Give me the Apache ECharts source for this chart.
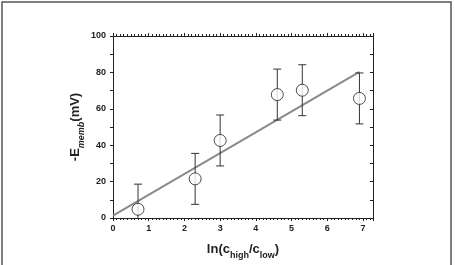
<!DOCTYPE html>
<html>
<head>
<meta charset="UTF-8">
<script src="https://cdn.jsdelivr.net/npm/echarts@6/dist/echarts.min.js"></script>
<style>
  body { margin: 0; padding: 0; background: #fff; }
  #chart { width: 455px; height: 265px; }
</style>
</head>
<body>
<div id="chart"></div>
<script>
  // measured points: ln(c_high/c_low), -E_memb (mV), error
  const lnRatio = [0.7, 2.3, 3.0, 4.6, 5.3, 6.9];
  const eMemb = [4.8, 21.5, 42.6, 67.8, 70.2, 65.7];
  const eErr = [13.8, 14.0, 14.0, 14.0, 14.0, 14.0];
  // fitted line end points
  const fitX = [0, 6.9];
  const fitY = [1.3, 80.3];
  const xTicks = [0, 1, 2, 3, 4, 5, 6, 7];
  const yTicks = [0, 20, 40, 60, 80, 100];

  const font = 'Liberation Sans, Arial, sans-serif';
  const chart = echarts.init(document.getElementById('chart'));

  const line = { show: true, onZero: false, lineStyle: { color: '#222', width: 1 } };

  chart.setOption({
    animation: false,
    grid: { left: 113, right: 82, top: 36, bottom: 43 },
    graphic: [{
      type: 'rect',
      shape: { x: 2, y: 2, width: 449, height: 275 },
      style: { fill: 'none', stroke: '#555', lineWidth: 1.5 }
    }],
    xAxis: [
      {
        type: 'value', min: 0, max: 7.28, interval: 1, position: 'bottom',
        axisLine: line, splitLine: { show: false },
        axisTick: { show: true, length: 3, inside: false, lineStyle: { color: '#222' } },
        minorTick: { show: true, splitNumber: 10, length: 2, lineStyle: { color: '#222' } },
        axisLabel: {
          margin: 6, fontSize: 9, fontWeight: 'bold', color: '#222', fontFamily: font,
          showMaxLabel: false,
          formatter: v => xTicks.includes(v) ? String(v) : ''
        },
        name: '{b|ln(c}{s|high}{b|/c}{s|low}{b|)}',
        nameLocation: 'middle', nameGap: 22, nameMoveOverlap: false,
        nameTextStyle: {
          fontFamily: font, color: '#222',
          rich: {
            b: { fontSize: 13, fontWeight: 'bold', fontFamily: font, color: '#222', lineHeight: 16, verticalAlign: 'bottom' },
            s: { fontSize: 9, fontWeight: 'bold', fontFamily: font, color: '#222', verticalAlign: 'bottom', padding: [0, 0, -4, 0] }
          }
        }
      },
      {
        type: 'value', min: 0, max: 7.28, interval: 1, position: 'top',
        axisLine: line, splitLine: { show: false },
        axisTick: { show: true, length: 3, inside: false, lineStyle: { color: '#222' } },
        minorTick: { show: true, splitNumber: 10, length: 2, lineStyle: { color: '#222' } },
        axisLabel: { show: false }
      }
    ],
    yAxis: [
      {
        type: 'value', min: 0, max: 100, interval: 20, position: 'left',
        axisLine: line, splitLine: { show: false },
        axisTick: { show: true, length: 3, inside: false, lineStyle: { color: '#222' } },
        minorTick: { show: true, splitNumber: 2, length: 3, lineStyle: { color: '#222' } },
        axisLabel: {
          margin: 7, fontSize: 9, fontWeight: 'bold', color: '#222', fontFamily: font,
          formatter: v => yTicks.includes(v) ? String(v) : ''
        },
        name: '{b|-E}{s|memb}{b|(mV)}',
        nameLocation: 'middle', nameGap: 31, nameRotate: 90, nameMoveOverlap: false,
        nameTextStyle: {
          fontFamily: font, color: '#222',
          rich: {
            b: { fontSize: 13, fontWeight: 'bold', fontFamily: font, color: '#222', lineHeight: 16, verticalAlign: 'bottom' },
            s: { fontSize: 9, fontWeight: 'bold', fontStyle: 'italic', fontFamily: font, color: '#222', verticalAlign: 'bottom', padding: [0, 0, -4, 0] }
          }
        }
      },
      {
        type: 'value', min: 0, max: 100, interval: 20, position: 'right',
        axisLine: line, splitLine: { show: false },
        axisTick: { show: true, length: 3, inside: true, lineStyle: { color: '#222' } },
        minorTick: { show: true, splitNumber: 2, length: 3, lineStyle: { color: '#222' } },
        axisLabel: { show: false }
      }
    ],
    series: [
      {
        type: 'line',
        data: fitX.map((x, i) => [x, fitY[i]]),
        showSymbol: false,
        lineStyle: { color: '#8a8a8a', width: 2 },
        z: 2
      },
      {
        type: 'custom',
        data: lnRatio.map((x, i) => [x, eMemb[i], eErr[i]]),
        renderItem: function (params, api) {
          const x = api.value(0), y = api.value(1), e = api.value(2);
          const lo = Math.max(0, y - e);
          const top = api.coord([x, y + e]);
          const bot = api.coord([x, lo]);
          const cap = 4;
          const style = { stroke: '#333', lineWidth: 1 };
          const children = [
            { type: 'line', shape: { x1: top[0], y1: top[1], x2: bot[0], y2: bot[1] }, style: style },
            { type: 'line', shape: { x1: top[0] - cap, y1: top[1], x2: top[0] + cap, y2: top[1] }, style: style }
          ];
          if (y - e > 0) {
            children.push({ type: 'line', shape: { x1: bot[0] - cap, y1: bot[1], x2: bot[0] + cap, y2: bot[1] }, style: style });
          }
          return { type: 'group', children: children };
        },
        z: 3
      },
      {
        type: 'scatter',
        data: lnRatio.map((x, i) => [x, eMemb[i]]),
        symbol: 'circle',
        symbolSize: 12,
        itemStyle: { color: '#fff', borderColor: '#222', borderWidth: 1 },
        z: 4
      }
    ]
  });
</script>
</body>
</html>
